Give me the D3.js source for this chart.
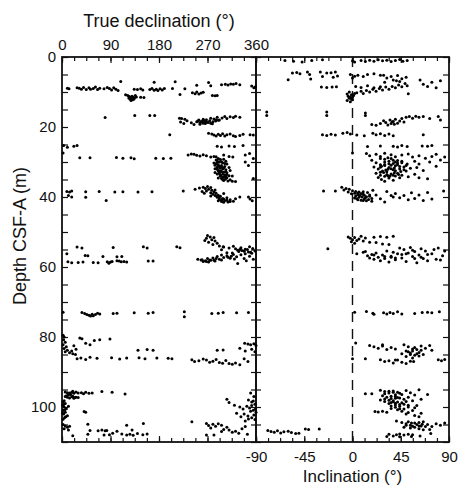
<!DOCTYPE html>
<html>
<head>
<meta charset="utf-8">
<script src="https://cdn.jsdelivr.net/npm/d3@7"></script>
<style>
  body { margin: 0; background: #fff; }
  text { font-family: "Liberation Sans", Arial, sans-serif; fill: #111; }
</style>
</head>
<body>
<div id="chart"></div>
<script>
// Tick labels
const declTicks = [0, 90, 180, 270, 360];
const inclTicks = [-90, -45, 0, 45, 90];
const depthTicks = [0, 20, 40, 60, 80, 100];

const decl_7_13 = [[8.9,10],[9.1,13],[8.8,28],[8.9,32],[9.2,36],[8.7,40],[9.3,45],[8.8,50],[9.2,53],[9.0,58],[8.6,62],[9.3,66],[8.9,70],[9.1,78],[8.7,84],[9.0,88],[9.4,92],[8.8,96],[9.2,100],[9.6,104],[7.0,109],
  [10.8,118],[11.0,122],[11.3,125],[11.6,127],[11.9,129],[12.2,131],[11.5,132],[11.8,134],[12.4,128],[11.2,130],[12.0,126],[11.0,136],[11.4,138],[12.1,133],[11.7,124],
  [9.2,134],[9.3,140],[9.1,146],[9.4,150],[11.5,146],[11.6,152],
  [9.3,163],[9.0,167],[9.5,171],[9.2,175],[9.6,178],[9.1,182],[9.4,186],[9.0,190],[7.2,171],
  [9.0,205],[7.1,210],[10.7,219],[9.1,228],[10.2,242],[10.5,247],[10.0,250],[10.6,254],[10.3,258],[10.1,262],[8.1,250],[7.3,272],[8.2,276],[11.0,279],[11.1,284],[11.0,288],
  [7.9,296],[7.8,303],[8.0,308],[7.7,313],[7.8,318],[7.6,323],[7.9,330],[8.3,352],[8.8,356],[8.5,359]];
const decl_15_23 = [[17.3,80],[16.7,135],[16.7,163],[16.7,172],[17.6,222],[17.8,228],
  [17.5,218],[18.6,220],[19.0,226],[18.2,232],[18.8,240],[19.3,245],[18.5,250],[18.0,254],[19.2,256],[18.6,259],[17.8,262],[18.4,265],[19.0,266],[17.9,268],[18.7,271],[18.2,274],[17.5,276],[19.1,279],[17.7,282],[18.3,285],[17.2,288],[18.0,292],[17.4,297],[17.0,302],[17.6,306],[17.1,312],[17.3,318],[16.9,322],[17.2,330],[18.9,262],[18.4,258],
  [18.3,252],[18.8,256],[18.1,262],[18.6,268],[18.9,276],[18.5,280],[17.9,286],[18.1,290],
  [22.2,200],
  [21.8,272],[22.0,278],[22.3,282],[22.6,286],[22.1,290],[22.4,294],[21.9,298],[22.6,302],[22.2,306],[22.0,312],[22.5,318],[22.7,322],[22.4,330],[22.1,336],[22.2,349],[22.3,355]];
const decl_24_36 = [[25.3,3],[25.8,10],[25.5,22],[25.3,28],[27.4,2],
  [25.5,288],[25.7,296],[25.4,310],[25.6,320],[25.3,336],
  [28.8,33],[28.8,52],[28.7,101],[28.9,113],[28.8,128],[29.1,134],[28.9,174],[29.0,188],[28.9,202],
  [28.0,234],[27.7,240],[27.8,245],[28.1,250],[28.3,256],[27.9,262],[28.2,268],[28.6,276],[28.4,282],[28.0,300],[28.4,310],[28.6,317],[28.0,340],[27.6,348],[29.0,355],
  [28.5,286],[29.0,290],[29.3,294],[29.6,288],[30.0,292],[30.2,298],[30.5,286],[30.8,290],[31.0,296],[31.3,302],[31.5,288],[31.8,293],[32.0,298],[32.2,304],[32.5,290],[32.7,296],[32.9,300],[33.1,306],[33.3,292],[33.5,298],[33.7,302],[33.9,310],[34.1,294],[34.3,300],[34.5,306],[34.7,296],[34.9,303],[35.1,312],[35.3,300],[35.5,316],[35.6,322],[29.8,304],[30.6,306],[31.6,310],[32.4,312],[30.3,282],[31.9,284],[29.2,300],[34.0,316],[33.0,284],
  [29.4,286],[29.9,296],[30.4,302],[30.9,284],[31.2,292],[31.7,300],[32.1,288],[32.6,294],[32.9,292],[33.4,288],[33.8,294],[34.2,304],[34.6,290],[35.0,298],[35.4,308],[30.1,288],[31.4,296],[32.8,304],[34.4,298],[33.6,306],
  [30.0,340],[31.0,346],[34.7,355]];
const decl_37_42 = [[38.4,9],[38.6,14],[38.3,18],[38.5,44],[38.4,69],[38.6,98],[38.5,113],[38.6,141],[38.5,167],[38.3,225],[40.0,18],[40.1,44],[41.0,82],[39.6,12],
  [37.8,247],[37.4,255],[37.2,262],[37.6,266],[37.0,270],[37.8,272],[37.3,276],[38.1,278],[38.3,268],[38.6,282],[38.9,286],[39.2,280],[39.5,290],[39.8,294],[40.1,288],[40.4,298],[40.7,292],[41.0,302],[41.3,296],[40.2,306],[40.8,312],[41.2,318],[40.5,322],[40.0,330],[39.0,300],[38.0,284],[39.7,276],[41.4,308],
  [39.8,288],[40.3,292],[40.6,300],[40.9,296],[41.1,290],[41.5,300],[39.6,284],[40.9,306],[41.3,312],[38.8,276],[38.4,260],[38.9,264],
  [40.0,346],[40.6,349],[41.1,353]];
const decl_51_60 = [[51.0,270],[51.4,275],[51.8,268],[52.2,278],[52.6,284],[52.9,272],[53.2,288],[53.6,280],[54.0,292],[54.2,299],[51.6,282],[52.4,265],
  [54.3,28],[54.6,37],[54.4,95],[54.2,151],[54.6,158],[54.2,213],[54.5,219],
  [54.3,300],[54.6,310],[54.1,318],[54.8,322],[55.2,326],[54.5,332],[55.5,338],[55.0,344],[54.2,348],[55.8,350],[54.7,354],[55.4,358],[55.9,306],[56.0,316],[55.6,328],[56.2,340],[55.1,296],
  [55.0,330],[55.3,334],[54.9,340],[55.7,346],[56.1,352],
  [56.2,9],[56.7,43],[56.8,48],[57.0,76],[57.1,102],[57.0,111],[58.3,160],[58.3,169],
  [58.5,11],[58.8,18],[58.7,30],[58.6,39],[58.7,58],[58.8,67],[58.5,84],[58.9,87],[58.6,90],[58.4,93],[58.2,102],[58.3,106],[58.5,110],[58.4,115],[58.6,120],
  [57.8,252],[58.0,258],[58.4,262],[58.2,266],[57.6,270],[58.6,272],[58.1,276],[57.4,280],[58.3,284],[57.0,288],[57.8,292],[56.6,296],[57.3,300],[56.8,306],[57.5,312],[56.4,318],[57.1,324],[59.0,326],[56.5,332],[57.6,338],[58.2,342],[56.9,348],[57.8,355],
  [57.9,260],[58.4,268],[58.1,282],[57.6,286],[58.0,296],[57.2,308],[56.9,314],[57.7,320],[58.0,274]];
const decl_72_75 = [[72.9,2],[73.0,37],[73.3,42],[73.6,46],[73.8,50],[74.0,53],[73.5,56],[73.9,58],[73.6,62],[73.2,66],[73.4,70],[73.3,95],[73.2,102],[73.1,134],[73.2,160],[73.0,169],[72.8,227],[74.2,227],[73.3,278],[73.2,290],[73.0,299],[73.1,324],[73.0,346]];
const decl_79_88 = [[79.5,2],[80.0,4],[80.8,3],[81.5,6],[82.2,2],[82.8,8],[83.3,4],[83.8,10],[84.2,6],[84.5,14],[84.0,18],[82.5,22],[83.5,26],[80.3,33],[80.5,37],[81.8,44],[82.2,52],[81.0,60],[80.8,70],[80.6,89],[83.8,141],[83.6,158],[83.8,169],[84.8,20],[85.0,25],
  [86.2,28],[86.0,35],[86.4,44],[85.8,52],[86.1,65],[85.9,92],[86.3,107],[86.0,120],[85.9,143],[86.2,154],[86.0,176],[86.1,197],[86.2,204],
  [86.5,241],[87.0,246],[86.8,254],[86.3,262],[86.6,268],[87.2,274],[86.9,280],[86.4,286],[87.3,292],[87.5,298],[86.7,304],[87.6,310],[87.8,316],[87.4,322],[87.9,330],[86.2,338],[87.0,345],
  [81.8,339],[82.0,345],[82.2,350],[81.9,356],[82.4,360],[83.8,288],[83.7,299],[83.2,330],[84.0,340],[83.5,352],[84.2,358]];
const decl_95_109 = [[95.7,6],[95.9,10],[96.0,14],[95.8,18],[96.1,22],[95.7,26],[96.0,30],[95.9,36],[96.2,40],[95.8,44],[96.1,50],[96.0,56],[95.6,74],[95.8,93],[96.3,117],
  [97.0,6],[97.2,10],[97.4,14],[97.1,18],[97.5,22],[97.2,26],[97.3,30],[96.8,8],[96.6,12],[96.4,16],[96.9,20],[97.3,24],[95.5,20],
  [98.5,2],[99.0,6],[99.5,1],[100.0,4],[100.5,8],[101.0,2],[101.5,6],[102.0,3],[102.5,10],[103.0,5],[99.8,12],[101.3,41],[101.5,44],
  [98.2,4],[99.3,3],[100.8,5],[101.8,1],[102.8,7],[103.5,2],
  [105.0,2],[105.4,6],[105.8,10],[106.2,4],[106.6,12],[105.5,14],
  [104.9,48],[105.2,120],[104.7,151],[104.2,241],
  [106.7,52],[106.8,67],[106.6,74],[106.8,80],[106.7,83],[106.9,102],[106.6,130],
  [108.2,20],[107.8,48],[108.0,78],[107.9,88],[107.5,94],[107.7,111],[108.0,120],[107.8,126],[108.1,132],[107.6,140],[107.9,150],[107.7,158],
  [104.7,268],[105.3,272],[104.9,280],[105.5,285],[104.8,290],[105.2,296],[106.0,276],[106.4,300],[105.8,306],[106.6,310],[107.2,316],[106.9,322],[107.5,328],[106.2,334],[105.6,340],[107.8,344],[108.0,268],[108.0,282],[107.0,296],
  [96.0,350],[97.0,356],[98.0,346],[98.6,352],[99.2,358],[99.8,343],[100.3,348],[100.9,355],[101.5,360],[102.0,338],[102.6,345],[103.1,352],[103.6,358],[100.0,330],[99.5,320],[98.7,310],[101.8,324],[102.8,332],[104.0,340],[97.8,306],[100.6,336],
  [98.3,355],[99.6,352],[100.6,359],[101.2,350],[102.3,356],[103.4,346]];

// Inclination points, [depth m, inclination deg]
const incl_0_13 = [[1.0,-63],[1.2,-55],[1.4,-47],[1.0,-38],[0.8,-28],[1.1,0],[1.4,2],[1.0,8],[1.3,12],[0.9,16],[1.2,20],[0.8,24],[1.1,28],[0.9,32],[1.3,36],[1.0,40],[0.7,44],[1.2,47],[1.0,51],
  [6.5,-60],[4.6,-56],[4.4,-52],[4.8,-49],[4.3,-42],[5.0,-40],[6.3,-39],
  [4.3,-30],[5.6,-28],[4.6,-24],[4.5,-20],[5.8,-18],[4.3,-16],[5.4,-14],
  [8.6,-29],[8.7,-24],[8.6,-19],[8.5,-15],
  [5.0,-2],[6.0,0],[5.5,2],[5.2,5],[5.6,10],[5.0,14],[4.8,20],[5.2,26],
  [10.0,-3],[10.6,-5],[11.2,-4],[11.8,-3],[12.4,-5],[12.8,-2],[12.2,0],[11.6,0],[11.0,1],[10.4,2],[12.0,-1],[11.4,-2],[10.8,-1],
  [10.2,4],[9.8,8],[10.4,10],[9.6,13],[10.0,16],[9.2,19],[9.8,22],[9.0,25],[9.4,28],[8.6,31],[9.2,34],[8.4,37],[8.8,40],[8.0,43],[8.5,46],[7.6,49],[8.2,51],
  [8.4,3],[8.7,8],[8.2,14],[8.8,20],[8.5,26],
  [5.2,29],[6.0,32],[5.6,36],[6.6,38],[5.3,42],[7.0,44],[6.2,46],[5.8,50],[7.2,30],[6.8,41],
  [6.6,63],[7.8,66],[8.4,70],[7.2,74],[8.8,78],[6.8,82],[10.5,52]];
const incl_15_23 = [[15.7,-80],[16.7,-80],[15.7,-24],[16.7,-24],[16.0,12],[16.7,12],
  [19.3,18],[19.5,22],[19.0,26],[18.2,29],[18.7,31],[19.4,33],[18.0,35],[18.5,37],[19.2,39],[17.8,40],[18.9,42],[18.3,44],[17.6,46],[18.6,48],[17.2,50],[17.0,53],[17.5,56],[16.9,59],[17.2,62],[17.0,66],[18.4,38],[19.0,36],[17.6,72],[17.0,80],[18.0,82],
  [22.2,-28],[22.4,-24],[22.1,-20],[22.3,-16],[21.8,-9],[21.6,-5],[22.0,-2],[22.3,4],[22.5,11],[21.8,19],[22.2,22],[21.9,26],[22.4,30],[22.0,34],[22.5,38],[22.2,66]];
const incl_25_36 = [[25.6,14],[25.4,26],[25.5,38],[25.7,42],[25.3,46],[25.6,51],[25.4,65],[25.5,70],[25.3,74],[27.4,0],
  [27.6,13],[28.2,16],[27.8,22],[28.4,26],[27.5,30],[28.8,33],[27.9,36],[28.5,40],[28.0,46],[27.7,52],[28.6,56],[28.2,62],[28.9,68],[28.4,74],[27.8,78],[28.6,86],
  [29.5,18],[30.2,22],[30.8,26],[31.4,20],[32.0,24],[32.6,28],[33.2,22],[33.8,26],[34.4,24],[35.0,27],[35.5,30],
  [29.2,30],[29.8,34],[30.4,38],[31.0,30],[31.6,34],[32.2,38],[32.8,32],[33.4,36],[34.0,40],[34.6,34],[35.2,38],
  [29.6,42],[30.2,46],[30.8,42],[31.4,48],[32.0,44],[32.6,50],[33.2,42],[33.8,46],[34.2,52],[30.6,51],[31.8,54],
  [29.8,58],[30.6,62],[31.6,60],[32.4,66],[33.5,58],[34.5,62],[34.8,70],[30.0,72],[31.2,78],[29.4,82],
  [29.0,26],[30.0,30],[31.2,27],[32.3,31],[33.0,29],[33.6,32],[34.1,30],[30.5,34],[31.9,36],[32.5,40],[33.8,38],[31.1,40],
  [29.0,36],[29.5,38],[30.3,42],[30.9,36],[31.3,44],[31.7,39],[32.1,33],[32.7,45],[33.1,39],[33.6,43],[34.0,35],[34.5,44],[30.7,30],[31.5,26],[32.9,26],[33.9,33],[29.8,46],[31.0,50],[32.2,48],[30.0,40]];
const incl_37_42 = [[38.3,-27],[38.3,-16],
  [37.2,-10],[37.6,-6],[38.0,-8],[37.8,-3],[38.2,0],[38.6,-4],[38.4,3],[38.9,2],[39.3,5],[39.7,3],[40.1,6],[40.5,4],[40.9,8],[39.0,8],[39.5,11],[40.2,12],[40.7,15],[41.2,18],[38.7,14],[39.8,16],[41.0,10],[38.1,19],[39.4,22],[40.5,26],[41.4,30],[38.4,32],[39.6,36],[40.0,38],[38.6,6],[39.1,-1],
  [38.9,5],[39.2,10],[39.6,7],[40.0,9],[40.3,2],[40.6,11],[39.9,13],[40.8,5],[41.1,13],[39.4,16],[38.5,10],[40.4,18],
  [39.0,40],[40.2,44],[39.6,48],[40.8,52],[38.8,55],[40.4,58],[39.4,62],[41.0,66],[38.7,70],[40.6,74],[38.3,85]];
const incl_51_60 = [[51.4,-4],[51.8,-2],[52.2,0],[51.6,2],[52.4,4],[52.0,6],[51.2,8],[52.6,10],[51.7,12],[52.8,-1],[53.2,2],[52.9,16],[51.5,20],[51.3,26],[51.5,32],[51.2,38],[53.0,22],[53.4,28],[53.6,34],
  [54.8,-23],
  [56.2,4],[55.8,10],[56.8,14],[57.4,16],[56.4,18],[57.8,20],[56.0,22],[57.2,24],[58.2,26],[56.6,28],[57.6,30],[55.4,32],[58.6,34],[56.9,36],[55.8,38],[57.9,40],[56.2,42],[54.6,44],[57.4,46],[55.0,48],[58.4,50],[56.0,52],[54.4,54],[57.0,56],[55.6,58],[58.8,60],[56.6,62],[54.8,64],[57.6,66],[55.4,68],[58.2,70],[56.2,74],[55.0,76],[57.8,78],[54.6,80],[56.8,84],[55.4,86],[58.0,82],[57.2,36],[56.4,46],[57.6,58],
  [55.6,12],[56.6,20],[57.0,30],[57.4,40],[56.2,50],[57.2,64],[56.4,70],[55.2,56]];
const incl_72_74 = [[72.9,2],[72.7,13],[73.2,19],[73.5,20],[73.1,29],[73.4,32],[73.0,35],[73.3,38],[72.8,42],[73.4,46],[73.3,58],[73.0,65],[72.9,70],[73.1,74],[72.8,81]];
const incl_81_88 = [[81.7,3],
  [82.4,16],[82.8,20],[83.2,24],[82.6,28],[83.6,32],[83.0,36],[83.4,40],[82.2,28],
  [82.2,48],[82.8,52],[83.4,56],[84.0,50],[84.6,54],[85.2,58],[83.6,60],[84.4,62],[85.0,66],[82.6,64],[83.2,68],[85.6,50],[84.8,46],[82.4,72],[83.8,74],[86.0,56],[85.4,62],
  [83.0,58],[84.0,56],[84.8,60],[83.8,64],[84.2,52],[85.0,54],
  [86.2,0],[86.2,12],[86.5,26],[87.0,30],[86.8,34],[87.4,38],[86.6,42],[87.2,46],[87.6,50],[86.9,54],[87.0,57],[86.6,40],
  [86.5,80],[86.8,83],[86.4,86]];
const incl_95_108 = [[96.2,12],[96.2,18],
  [95.2,26],[95.6,30],[96.0,34],[95.4,38],[95.8,42],[96.4,46],[95.3,50],[95.9,54],[96.6,58],[95.1,62],
  [96.8,28],[97.2,32],[97.6,36],[97.0,40],[97.4,44],[97.8,48],[97.2,52],[98.0,26],[98.4,30],[98.2,38],[98.6,42],[98.8,46],[98.4,50],[99.0,34],[99.4,40],[99.8,44],[99.2,48],[100.0,52],[100.4,36],[100.8,42],[100.6,48],[101.2,46],[101.6,52],[101.0,56],[102.0,50],[102.4,58],[102.8,62],[101.8,64],[100.2,58],[99.6,60],[97.8,64],[96.4,70],[98.2,56],
  [95.5,34],[95.8,38],[96.2,30],[96.5,40],[96.9,36],[97.3,42],[97.7,30],[98.1,34],[98.5,38],[98.9,40],[99.3,44],[99.7,36],[100.1,40],[100.5,44],[96.1,44],[97.5,40],[98.7,36],[99.5,52],
  [101.3,21],[101.4,24],[101.2,28],[101.5,32],
  [104.0,41],[104.4,46],[104.8,50],[105.2,54],[104.6,58],[105.4,62],[104.2,66],[105.0,70],[105.6,74],[104.8,78],[105.2,82],[104.6,86],[105.8,48],[105.5,56],[104.4,62],
  [104.2,52],[104.6,55],[105.0,60],[105.4,64],[105.8,58],[106.2,62],[106.5,66],[105.6,68],[104.9,65],[106.0,54],[106.4,72],[105.2,50],
  [107.8,34],[107.9,41],[107.7,44],[108.0,48],[107.8,52],[107.9,56],[107.6,73],
  [108.4,32],[108.3,38],[108.5,44],[108.4,55],[108.3,63],
  [106.7,-79],[107.0,-76],[107.2,-73],[106.8,-70],[107.4,-67],[107.1,-64],[106.9,-60],[107.3,-57],[107.6,-53],[107.5,-50],[106.3,-44],[106.4,-41],[106.3,-31]];

const declPoints = [].concat(decl_7_13, decl_15_23, decl_24_36, decl_37_42, decl_51_60, decl_72_75, decl_79_88, decl_95_109);
const inclPoints = [].concat(incl_0_13, incl_15_23, incl_25_36, incl_37_42, incl_51_60, incl_72_74, incl_81_88, incl_95_108);

const W = 458, H = 485;
const yTop = 57, yBottom = 442, xLeft = 62, xMid = 256, xRight = 449;

let svg = d3.select('#chart').append('svg')
  .attr('width', W).attr('height', H)
  .style('background-color', '#FFFFFF');

let y = d3.scaleLinear().domain([0, 110]).range([yTop, yBottom]);
let xDec = d3.scaleLinear().domain([0, 360]).range([xLeft, xMid]);
let xInc = d3.scaleLinear().domain([-90, 90]).range([xMid, xRight]);

// helper: draw a tick-only or labelled axis, no domain line
function axis(gen, tr, fs) {
  let g = svg.append('g').attr('transform', tr).call(gen);
  g.select('.domain').remove();
  g.selectAll('.tick line').attr('stroke', '#111').attr('stroke-width', 1.2);
  g.selectAll('text').attr('font-size', fs || 15).attr('fill', '#111')
    .style('font-family', '"Liberation Sans", Arial, sans-serif');
  return g;
}

// depth ticks every 5 m
let depthMinor = d3.range(0, 111, 5);
axis(d3.axisLeft(y).tickValues(depthMinor).tickSize(-6).tickFormat(''), `translate(${xLeft},0)`);
axis(d3.axisLeft(y).tickValues(depthTicks).tickSize(0).tickPadding(6).tickFormat(d3.format('d')), `translate(${xLeft},0)`);
axis(d3.axisRight(y).tickValues(depthMinor).tickSize(-5).tickFormat(''), `translate(${xMid},0)`);
axis(d3.axisLeft(y).tickValues(depthMinor).tickSize(-5).tickFormat(''), `translate(${xMid},0)`);
axis(d3.axisRight(y).tickValues(depthMinor).tickSize(-6).tickFormat(''), `translate(${xRight},0)`);

// declination axis (top) and its unlabelled bottom ticks
let decMinor = d3.range(0, 361, 22.5);
axis(d3.axisTop(xDec).tickValues(decMinor).tickSize(-4).tickFormat(''), `translate(0,${yTop})`);
axis(d3.axisTop(xDec).tickValues(declTicks).tickSize(-6).tickPadding(7).tickFormat(d3.format('d')), `translate(0,${yTop})`);
axis(d3.axisBottom(xDec).tickValues(decMinor).tickSize(-4).tickFormat(''), `translate(0,${yBottom})`);
axis(d3.axisBottom(xDec).tickValues(declTicks).tickSize(-6).tickFormat(''), `translate(0,${yBottom})`);

// inclination axis (bottom) and top ticks
let incMinor = d3.range(-90, 91, 11.25);
axis(d3.axisBottom(xInc).tickValues(incMinor).tickSize(-4).tickFormat(''), `translate(0,${yBottom})`);
axis(d3.axisBottom(xInc).tickValues(inclTicks).tickSize(-6).tickPadding(9.5).tickFormat(d => d < 0 ? '-' + Math.abs(d) : d), `translate(0,${yBottom})`);
axis(d3.axisTop(xInc).tickValues(incMinor).tickSize(-4).tickFormat(''), `translate(0,${yTop})`);
axis(d3.axisTop(xInc).tickValues(inclTicks).tickSize(-6).tickFormat(''), `translate(0,${yTop})`);

// zero inclination reference line
svg.append('line')
  .attr('x1', xInc(0)).attr('x2', xInc(0))
  .attr('y1', yTop).attr('y2', yBottom)
  .attr('stroke', '#111').attr('stroke-width', 1.4)
  .attr('stroke-dasharray', '10,7');

// panel frames
svg.append('rect').attr('x', xLeft).attr('y', yTop).attr('width', xMid - xLeft).attr('height', yBottom - yTop)
  .attr('fill', 'none').attr('stroke', '#111').attr('stroke-width', 1.8);
svg.append('rect').attr('x', xMid).attr('y', yTop).attr('width', xRight - xMid).attr('height', yBottom - yTop)
  .attr('fill', 'none').attr('stroke', '#111').attr('stroke-width', 1.8);

// points
svg.append('g').selectAll('circle').data(declPoints).enter().append('circle')
  .attr('cx', d => xDec(d[1])).attr('cy', d => y(d[0])).attr('r', 1.5).attr('fill', '#000');
svg.append('g').selectAll('circle').data(inclPoints).enter().append('circle')
  .attr('cx', d => xInc(d[1])).attr('cy', d => y(d[0])).attr('r', 1.5).attr('fill', '#000');

// titles
svg.append('text').attr('x', (xLeft + xMid) / 2).attr('y', 27).attr('text-anchor', 'middle')
  .attr('font-size', 18).text('True declination (°)');
svg.append('text').attr('x', (xMid + xRight) / 2).attr('y', 482).attr('text-anchor', 'middle')
  .attr('font-size', 17).text('Inclination (°)');
svg.append('text').attr('transform', 'translate(26,236) rotate(-90)').attr('text-anchor', 'middle')
  .attr('font-size', 18).text('Depth CSF-A (m)');
</script>
</body>
</html>
